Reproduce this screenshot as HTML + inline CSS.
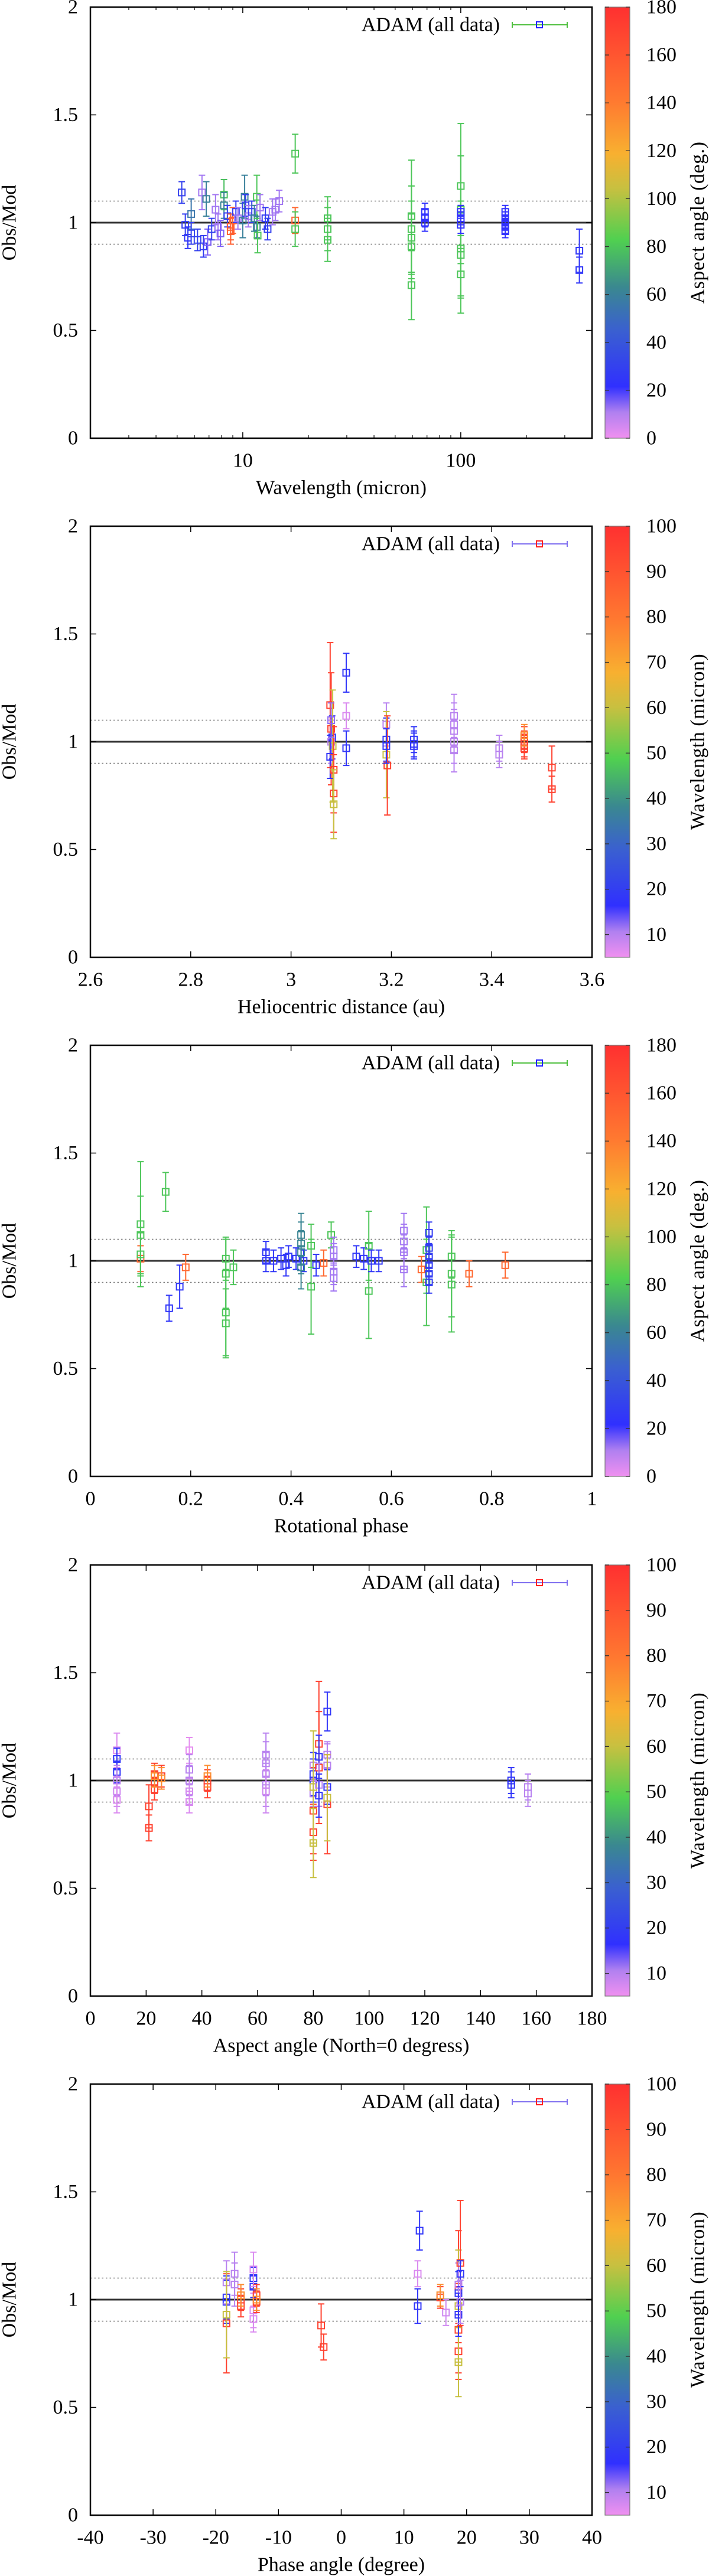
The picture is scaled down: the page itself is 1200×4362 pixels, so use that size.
<!DOCTYPE html>
<html><head><meta charset="utf-8"><style>
html,body{margin:0;padding:0;background:#fff}
svg{display:block}
svg text{font-family:"Liberation Serif",serif}
</style></head><body>
<svg id="fig" xmlns="http://www.w3.org/2000/svg" width="1200" height="4362" viewBox="0 0 1200 4362" font-family="Liberation Serif, serif">
<defs>
<linearGradient id="cgrad" x1="0" y1="1" x2="0" y2="0">
<stop offset="0" stop-color="#f090f0"/><stop offset="0.06" stop-color="#b080f0"/><stop offset="0.12" stop-color="#3030ff"/><stop offset="0.25" stop-color="#3a60d0"/><stop offset="0.35" stop-color="#3a8890"/><stop offset="0.46" stop-color="#50d050"/><stop offset="0.58" stop-color="#c8c040"/><stop offset="0.66" stop-color="#f8b030"/><stop offset="0.78" stop-color="#ff7a30"/><stop offset="1" stop-color="#ff3030"/>
</linearGradient>
</defs>
</svg>
<script>
// Panel 1: wavelength vs Obs/Mod, colour = aspect angle
const p1X=[5.25,5.45,5.6,5.8,5.8,6.2,6.5,6.6,6.8,6.9,7.2,7.5,7.7,7.9,8.2,8.2,8.5,8.8,8.8,9,9.3,9.5,10,10.2,10.3,10.6,11,11.3,11.6,11.6,11.7,12,12.7,13,13.7,14.1,14.7,17.4,17.4,17.4,24.5,24.5,24.5,59.4,59.4,59.4,59.4,59.4,68.5,68.5,68.5,100,100,100,100,100,100,100,100,160,160,160,160,160,350,350];
const p1Y=[1.14,0.99,0.93,1.04,0.95,0.92,1.14,0.89,1.11,0.91,0.97,1.06,0.98,0.95,1.13,1.08,1.03,0.98,0.96,1.01,1.05,1.02,1.01,1.12,1.08,1.03,1.05,1.02,1.12,0.98,0.94,1.07,1.02,0.97,1.05,1.06,1.10,1.32,1.01,0.97,1.02,0.97,0.92,1.03,0.97,0.93,0.89,0.71,1.05,1.02,1.00,1.17,1.06,0.88,0.85,0.76,1.05,1.02,0.99,1.05,1.02,1.0,0.98,0.96,0.87,0.78];
const p1E=[0.05,0.05,0.05,0.07,0.05,0.05,0.08,0.05,0.08,0.06,0.05,0.07,0.06,0.06,0.07,0.06,0.05,0.06,0.06,0.06,0.05,0.05,0.08,0.1,0.05,0.05,0.05,0.06,0.1,0.05,0.08,0.06,0.05,0.05,0.06,0.05,0.05,0.09,0.06,0.08,0.1,0.1,0.1,0.26,0.2,0.17,0.15,0.16,0.04,0.04,0.04,0.29,0.25,0.22,0.2,0.18,0.03,0.03,0.04,0.03,0.03,0.03,0.03,0.03,0.1,0.06];
const p1C=[30,28,25,55,30,30,12,28,60,15,30,12,12,15,78,62,28,155,155,155,28,12,60,60,28,12,28,60,80,60,80,12,28,30,12,12,12,80,150,80,80,80,80,80,80,80,80,80,22,22,22,80,80,80,80,80,22,22,22,22,22,22,22,22,25,25];
const p1Ticks=[10,100];
const p1TickLabels=["10","100"];
// Panel 2: heliocentric distance, colour = wavelength
const p2X=[3.078,3.08,3.082,3.08,3.083,3.078,3.085,3.085,3.085,3.08,3.11,3.11,3.11,3.19,3.19,3.19,3.192,3.19,3.245,3.245,3.245,3.325,3.325,3.325,3.325,3.325,3.415,3.415,3.465,3.465,3.465,3.465,3.465,3.52,3.52];
const p2Y=[1.17,1.06,1.02,1.0,0.98,0.93,0.87,0.76,0.71,1.10,1.32,1.12,0.97,1.08,1.01,0.94,0.89,0.98,1.01,0.99,0.98,1.12,1.08,1.05,1.0,0.96,0.97,0.94,1.02,1.0,0.98,0.97,1.03,0.88,0.78];
const p2E=[0.29,0.26,0.1,0.1,0.26,0.1,0.2,0.18,0.16,0.08,0.09,0.06,0.08,0.1,0.1,0.2,0.23,0.08,0.06,0.06,0.06,0.1,0.1,0.1,0.1,0.1,0.06,0.06,0.05,0.05,0.05,0.05,0.05,0.1,0.06];
const p2C=[95,95,18,10,60,18,95,95,60,12,18,7,18,10,18,60,95,18,18,18,18,10,10,10,10,10,10,10,95,95,95,95,75,95,95];
const p2Ticks=[2.6,2.8,3,3.2,3.4,3.6];
const p2TickLabels=["2.6","2.8","3","3.2","3.4","3.6"];
// Panel 3: rotational phase, colour = aspect angle
const p3X=[0.10,0.10,0.10,0.10,0.15,0.157,0.178,0.19,0.27,0.27,0.27,0.27,0.285,0.35,0.35,0.365,0.38,0.39,0.395,0.41,0.425,0.45,0.42,0.42,0.42,0.42,0.44,0.44,0.465,0.48,0.485,0.485,0.485,0.485,0.53,0.545,0.555,0.555,0.56,0.575,0.625,0.625,0.625,0.625,0.66,0.67,0.67,0.675,0.675,0.675,0.675,0.675,0.675,0.72,0.72,0.72,0.755,0.827];
const p3Y=[1.01,1.17,1.12,1.03,1.32,0.78,0.88,0.97,1.01,0.94,0.76,0.71,0.97,1.04,1.0,1.0,1.01,0.98,1.02,1.01,1.0,0.98,1.12,1.08,1.04,0.97,1.07,0.88,0.99,1.12,1.05,1.02,0.95,0.92,1.02,1.01,1.07,0.86,1.0,1.0,1.14,1.09,1.04,0.96,0.96,1.05,0.9,1.13,1.06,1.02,0.98,0.94,0.9,1.02,0.94,0.89,0.94,0.98];
const p3E=[0.06,0.29,0.18,0.1,0.09,0.06,0.1,0.06,0.1,0.16,0.2,0.16,0.08,0.05,0.05,0.05,0.05,0.05,0.05,0.05,0.05,0.05,0.1,0.1,0.1,0.1,0.1,0.22,0.06,0.06,0.06,0.06,0.06,0.06,0.05,0.05,0.16,0.22,0.05,0.05,0.08,0.08,0.08,0.08,0.06,0.2,0.2,0.05,0.05,0.05,0.05,0.05,0.05,0.1,0.2,0.22,0.06,0.06];
const p3C=[150,80,80,80,80,25,25,150,80,80,80,80,80,25,25,25,25,25,25,25,25,25,62,62,62,62,80,80,150,80,12,12,12,12,25,25,80,80,25,25,12,12,12,12,150,80,80,28,28,28,28,28,28,80,80,80,150,150];
const p3Ticks=[0,0.2,0.4,0.6,0.8,1];
const p3TickLabels=["0","0.2","0.4","0.6","0.8","1"];
// Panel 4: aspect angle, colour = wavelength
const p4X=[9.5,9.5,9.5,9.5,9.5,9.5,21,21,23,23,23,23,25.5,25.5,35.5,35.5,35.5,35.5,35.5,42,42,42,63,63,63,63,63,80,80,80,80,80,80,80,80,82,82,82,82,82,85,85,85,85,85,85,151,151,157,157];
const p4Y=[1.14,1.1,1.04,1.0,0.95,0.91,0.88,0.78,1.03,0.99,0.96,1.02,1.02,1.01,1.14,1.05,1.0,0.95,0.9,1.0,0.97,1.02,1.12,1.08,1.03,0.98,0.95,0.86,0.76,0.71,1.07,1.03,1.0,0.94,0.97,1.17,1.06,1.11,0.98,0.93,1.32,1.12,1.07,0.97,0.89,0.92,1.0,0.98,0.97,0.94];
const p4E=[0.08,0.05,0.05,0.07,0.07,0.06,0.1,0.06,0.05,0.05,0.05,0.05,0.05,0.05,0.06,0.07,0.07,0.06,0.05,0.05,0.05,0.05,0.1,0.1,0.1,0.1,0.1,0.2,0.13,0.16,0.06,0.1,0.1,0.06,0.26,0.29,0.26,0.1,0.1,0.1,0.09,0.06,0.1,0.08,0.23,0.2,0.06,0.06,0.06,0.06];
const p4C=[7,18,18,10,8,7,95,95,95,95,95,75,95,75,6,10,10,8,7,95,95,75,10,10,10,10,8,95,95,60,10,18,18,10,60,95,95,18,10,18,18,10,10,18,95,60,18,18,10,10];
const p4Ticks=[0,20,40,60,80,100,120,140,160,180];
const p4TickLabels=["0","20","40","60","80","100","120","140","160","180"];
// Panel 5: phase angle, colour = wavelength
const p5X=[-18.3,-18.3,-18.3,-18.3,-18.3,-17,-17,-16,-16,-16,-14,-14,-14,-14,-14,-13.5,-13.5,-13.5,-3.2,-2.8,12.2,12.2,12.5,15.8,15.8,16.7,18.7,18.7,18.7,18.7,18.7,18.7,18.7,18.7,19,19,19];
const p5Y=[1.01,0.99,1.08,0.89,0.93,1.12,1.07,1.0,0.97,1.02,1.1,1.06,1.14,0.95,0.91,1.02,0.99,1.0,0.88,0.78,0.97,1.12,1.32,1.01,1.02,0.94,1.06,0.86,0.76,0.71,0.97,1.03,1.07,0.93,1.17,1.12,0.99];
const p5E=[0.1,0.1,0.1,0.23,0.2,0.1,0.1,0.05,0.05,0.05,0.05,0.05,0.08,0.08,0.06,0.05,0.05,0.05,0.1,0.06,0.08,0.06,0.09,0.05,0.05,0.06,0.26,0.2,0.13,0.16,0.26,0.1,0.1,0.1,0.29,0.06,0.1];
const p5C=[18,18,10,95,60,10,10,95,95,75,18,18,7,7,7,95,95,75,95,95,18,7,18,95,75,8,95,95,95,60,60,18,10,18,95,18,10];
const p5Ticks=[-40,-30,-20,-10,0,10,20,30,40];
const p5TickLabels=["-40","-30","-20","-10","0","10","20","30","40"];
const yTicks=[0,0.5,1,1.5,2];
const yTickLabels=["0","0.5","1","1.5","2"];
const aspectTicks=[0,20,40,60,80,100,120,140,160,180];
const waveTicks=[10,20,30,40,50,60,70,80,90,100];

const NS="http://www.w3.org/2000/svg";
const svg=document.getElementById('fig');
const L=153,R=1002,H=730,CB0=1024,CB1=1066;
const stops=[[0,[240,144,240]],[0.06,[176,128,240]],[0.12,[48,48,255]],[0.25,[58,96,208]],[0.35,[58,136,144]],[0.46,[80,208,80]],[0.58,[200,192,64]],[0.66,[248,176,48]],[0.78,[255,122,48]],[1,[255,48,48]]];
function cmap(f){f=Math.max(0,Math.min(1,f));for(let i=1;i<stops.length;i++){if(f<=stops[i][0]){const a=stops[i-1],b=stops[i];const t=(f-a[0])/(b[0]-a[0]);const c=a[1].map((v,k)=>Math.round(v+(b[1][k]-v)*t));return `rgb(${c[0]},${c[1]},${c[2]})`;}}return 'rgb(255,48,48)';}
function mk(tag,attrs,parent){const e=document.createElementNS(NS,tag);for(const k in attrs)e.setAttribute(k,attrs[k]);(parent||svg).appendChild(e);return e;}
function txt(s,x,y,anchor,parent,extra){const t=mk('text',Object.assign({x:x,y:y,'text-anchor':anchor,'dominant-baseline':'central','font-size':34,'font-family':'Liberation Serif, serif',fill:'#000'},extra||{}),parent);t.textContent=s;return t;}

function panel(id,top,xs,ys,es,cs,o){
  const g=mk('g',{});
  
  
  const bot=top+H;
  const X=o.log?(v=>L+(Math.log10(v)-Math.log10(o.xmin))/(Math.log10(o.xmax)-Math.log10(o.xmin))*(R-L)):(v=>L+(v-o.xmin)/(o.xmax-o.xmin)*(R-L));
  const Y=v=>bot-v/2*H;
  const r1=mk('line',{x1:L,x2:R,y1:Y(1),y2:Y(1),stroke:'#333',"stroke-width":3},g);
  
  
  for(const v of [1.1,0.9]){const l=mk('line',{x1:L,x2:R,y1:Y(v),y2:Y(v),stroke:'#777',"stroke-width":1.6,"stroke-dasharray":"2.5,4"},g);
    
    }
  yTicks.forEach((v,i)=>{mk('line',{x1:L,x2:L+10,y1:Y(v),y2:Y(v),stroke:'#000','stroke-width':1.5},g);mk('line',{x1:R-10,x2:R,y1:Y(v),y2:Y(v),stroke:'#000','stroke-width':1.5},g);
    const t=txt(yTickLabels[i],132,Y(v),'end',g);
    
    });
  o.ticks.forEach((v,i)=>{const x=X(v);mk('line',{x1:x,x2:x,y1:bot,y2:bot-10,stroke:'#000','stroke-width':1.5},g);mk('line',{x1:x,x2:x,y1:top,y2:top+10,stroke:'#000','stroke-width':1.5},g);
    const t=txt(o.labels[i],x,bot+38,'middle',g);
    
    });
  if(o.log){for(let d=1;d<=100;d*=10)for(let m=2;m<=9;m++){const v=d*m;if(v<o.xmin||v>o.xmax)continue;const x=X(v);mk('line',{x1:x,x2:x,y1:bot,y2:bot-5,stroke:'#000','stroke-width':1.2},g);mk('line',{x1:x,x2:x,y1:top,y2:top+5,stroke:'#000','stroke-width':1.2},g);}}
  xs.forEach((xv,i)=>{const col=cmap((cs[i]-o.cmin)/(o.cmax-o.cmin));const x=X(xv),y=Y(ys[i]),y1=Y(ys[i]-es[i]),y2=Y(ys[i]+es[i]);
    const pg=mk('g',{stroke:col,'stroke-width':2,fill:'none'},g);
    
    
    mk('line',{x1:x,x2:x,y1:y1,y2:y2},pg);
    mk('line',{x1:x-5.5,x2:x+5.5,y1:y1,y2:y1},pg);
    mk('line',{x1:x-5.5,x2:x+5.5,y1:y2,y2:y2},pg);
    mk('rect',{x:x-5.5,y:y-5.5,width:11,height:11},pg);});
  const fr=mk('rect',{x:L,y:top,width:R-L,height:H,fill:'none',stroke:'#000','stroke-width':2.5},g);
  
  
  const lt=txt('ADAM (all data)',846,top+30,'end',g);
  
  
  const lg=mk('g',{stroke:o.legLine,'stroke-width':2,fill:'none'},g);
  
  
  mk('line',{x1:867,x2:960,y1:top+30,y2:top+30},lg);
  mk('line',{x1:867,x2:867,y1:top+25,y2:top+35},lg);
  mk('line',{x1:960,x2:960,y1:top+25,y2:top+35},lg);
  mk('rect',{x:908,y:top+25,width:10,height:10,stroke:o.legSq,fill:'none','stroke-width':2},g);
  const xt=txt(o.xtitle,(L+R)/2,bot+84,'middle',g);
  
  
  const yt=txt('Obs/Mod',0,0,'middle',g,{transform:`translate(16,${(top+bot)/2}) rotate(-90)`});
  
  
  const cb=mk('rect',{x:CB0,y:top,width:CB1-CB0,height:H,fill:'url(#cgrad)',stroke:'#777','stroke-width':1.2},g);
  
  
  o.cticks.forEach(v=>{const y=bot-(v-o.cmin)/(o.cmax-o.cmin)*H;
    mk('line',{x1:CB0,x2:CB0+7,y1:y,y2:y,stroke:'#333','stroke-width':1.3},g);
    mk('line',{x1:CB1-7,x2:CB1,y1:y,y2:y,stroke:'#333','stroke-width':1.3},g);
    const t=txt(String(v),1094,y,'start',g);
    
    });
  const ct=txt(o.ctitle,0,0,'middle',g,{transform:`translate(1181,${(top+bot)/2}) rotate(-90)`,'letter-spacing':'0.5'});
  
  
}
panel('wavelength',12,p1X,p1Y,p1E,p1C,{log:true,xmin:2,xmax:400,ticks:p1Ticks,labels:p1TickLabels,cmin:0,cmax:180,cticks:aspectTicks,xtitle:'Wavelength (micron)',ctitle:'Aspect angle (deg.)',legLine:'#50c040',legSq:'#2020ff'});
panel('heliocentric',891,p2X,p2Y,p2E,p2C,{xmin:2.6,xmax:3.6,ticks:p2Ticks,labels:p2TickLabels,cmin:5,cmax:100,cticks:waveTicks,xtitle:'Heliocentric distance (au)',ctitle:'Wavelength (micron)',legLine:'#8070f0',legSq:'#ff2020'});
panel('rotational',1770,p3X,p3Y,p3E,p3C,{xmin:0,xmax:1,ticks:p3Ticks,labels:p3TickLabels,cmin:0,cmax:180,cticks:aspectTicks,xtitle:'Rotational phase',ctitle:'Aspect angle (deg.)',legLine:'#50c040',legSq:'#2020ff'});
panel('aspect',2650,p4X,p4Y,p4E,p4C,{xmin:0,xmax:180,ticks:p4Ticks,labels:p4TickLabels,cmin:5,cmax:100,cticks:waveTicks,xtitle:'Aspect angle (North=0 degress)',ctitle:'Wavelength (micron)',legLine:'#8070f0',legSq:'#ff2020'});
panel('phase',3529,p5X,p5Y,p5E,p5C,{xmin:-40,xmax:40,ticks:p5Ticks,labels:p5TickLabels,cmin:5,cmax:100,cticks:waveTicks,xtitle:'Phase angle (degree)',ctitle:'Wavelength (micron)',legLine:'#8070f0',legSq:'#ff2020'});
</script>
</body></html>
